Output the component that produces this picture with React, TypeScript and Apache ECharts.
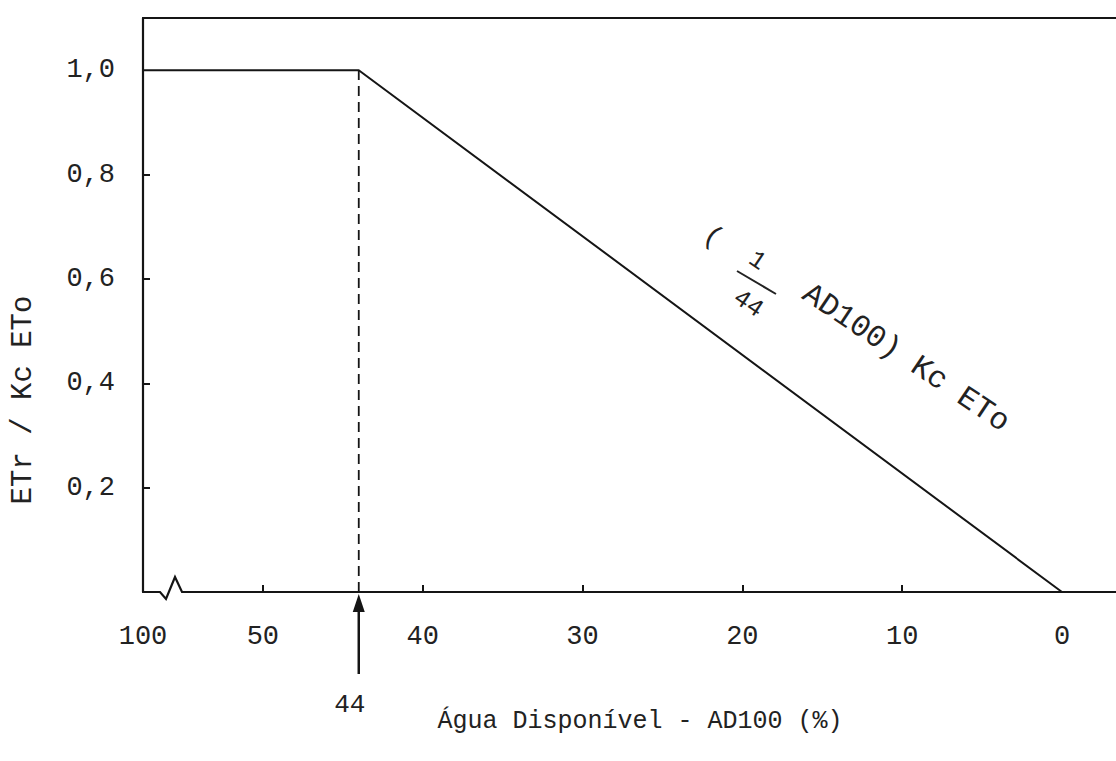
import React, { useEffect, useRef } from "react";
import * as echarts from "echarts";

// ---- data ----
const yTickValues = [0.2, 0.4, 0.6, 0.8];
const yLabelValues = [0.2, 0.4, 0.6, 0.8, 1.0];
const xTickValues = [50, 40, 30, 20, 10];
const xLabelValues = [100, 50, 40, 30, 20, 10, 0];
const curveAD = [100, 44, 0]; // Água Disponível AD100 (%)
const curveRatio = [1.0, 1.0, 0.0]; // ETr / Kc ETo
const criticalAD = 44;
const criticalRatio = 1.0;

// broken axis: 50..100 squeezed near the origin
const brk = (v: number) => (v <= 50 ? v : 50 + (v - 50) * 0.15);

const FONT = "'Liberation Mono', 'DejaVu Sans Mono', monospace";
const INK = "#151515";
const TXT = "#222";

export default function App() {
  const ref = useRef<HTMLDivElement>(null);
  useEffect(() => {
    document.body.style.margin = "0";
    const chart = echarts.init(ref.current!, undefined, { renderer: "svg" });
    const option: any = {
      animation: false,
      backgroundColor: "#ffffff",
      grid: { left: 143, right: 0, top: 18, bottom: 169 },
      xAxis: [
        {
          type: "value",
          inverse: true,
          min: -3.38,
          max: brk(100),
          axisLine: { show: true, onZero: false, lineStyle: { color: INK, width: 2.2 } },
          axisTick: {
            show: true,
            inside: true,
            length: 7,
            customValues: xTickValues.map(brk),
            lineStyle: { color: INK, width: 2 },
          },
          axisLabel: {
            customValues: xLabelValues.map(brk),
            formatter: (v: number) => {
              const l = xLabelValues.find((x) => Math.abs(brk(x) - v) < 1e-6);
              return l === undefined ? "" : String(l);
            },
            margin: 31,
            fontFamily: FONT,
            fontSize: 27,
            color: TXT,
          },
          splitLine: { show: false },
        },
        {
          type: "value",
          position: "top",
          inverse: true,
          min: -3.38,
          max: brk(100),
          axisLine: { show: true, onZero: false, lineStyle: { color: INK, width: 2.2 } },
          axisTick: { show: false },
          axisLabel: { show: false },
          splitLine: { show: false },
        },
      ],
      yAxis: {
        type: "value",
        position: "left",
        min: 0,
        max: 1.1,
        axisLine: { show: true, onZero: false, lineStyle: { color: INK, width: 2.2 } },
        axisTick: {
          show: true,
          inside: true,
          length: 7,
          customValues: yTickValues,
          lineStyle: { color: INK, width: 2 },
        },
        axisLabel: {
          customValues: yLabelValues,
          formatter: (v: number) => v.toFixed(1).replace(".", ","),
          margin: 28,
          fontFamily: FONT,
          fontSize: 27,
          color: TXT,
        },
        splitLine: { show: false },
      },
      graphic: [
        {
          type: "text",
          x: 23,
          y: 400,
          rotation: Math.PI / 2,
          style: {
            text: "ETr / Kc ETo",
            font: `29px ${FONT}`,
            fill: TXT,
            align: "center",
            verticalAlign: "middle",
          },
        },
        {
          type: "text",
          x: 640,
          y: 721,
          style: {
            text: "Água Disponível - AD100 (%)",
            font: `25px ${FONT}`,
            fill: TXT,
            align: "center",
            verticalAlign: "middle",
          },
        },
        {
          type: "text",
          x: 713,
          y: 237,
          rotation: -0.59,
          style: { text: "(", font: `28px ${FONT}`, fill: TXT, align: "center", verticalAlign: "middle" },
        },
        {
          type: "text",
          x: 757,
          y: 261,
          rotation: -0.59,
          style: { text: "1", font: `25px ${FONT}`, fill: TXT, align: "center", verticalAlign: "middle" },
        },
        {
          type: "line",
          shape: { x1: 737, y1: 271, x2: 776, y2: 294 },
          style: { stroke: TXT, lineWidth: 2 },
        },
        {
          type: "text",
          x: 748,
          y: 304,
          rotation: -0.59,
          style: { text: "44", font: `25px ${FONT}`, fill: TXT, align: "center", verticalAlign: "middle" },
        },
        {
          type: "text",
          x: 906,
          y: 358,
          rotation: -0.59,
          style: {
            text: "AD100) Kc ETo",
            font: `31px ${FONT}`,
            fill: TXT,
            align: "center",
            verticalAlign: "middle",
          },
        },
      ],
      series: [
        {
          type: "line",
          xAxisIndex: 0,
          data: curveAD.map((x, i) => [brk(x), curveRatio[i]]),
          symbol: "none",
          lineStyle: { color: INK, width: 2 },
          z: 3,
        },
        {
          type: "line",
          xAxisIndex: 0,
          data: [
            [criticalAD, 0],
            [criticalAD, criticalRatio],
          ],
          symbol: "none",
          lineStyle: { color: INK, width: 1.8, type: [10, 6] },
          z: 3,
        },
        {
          type: "custom",
          xAxisIndex: 0,
          clip: false,
          z: 5,
          data: [[criticalAD, 0]],
          renderItem: (params: any, api: any) => {
            const p = api.coord([api.value(0), api.value(1)]);
            return {
              type: "group",
              children: [
                {
                  type: "line",
                  shape: { x1: p[0], y1: p[1] + 82, x2: p[0], y2: p[1] + 14 },
                  style: { stroke: INK, lineWidth: 2.5 },
                },
                {
                  type: "polygon",
                  shape: {
                    points: [
                      [p[0], p[1] + 2],
                      [p[0] - 6, p[1] + 20],
                      [p[0] + 6, p[1] + 20],
                    ],
                  },
                  style: { fill: INK },
                },
                {
                  type: "text",
                  style: {
                    text: String(criticalAD),
                    x: p[0] - 9,
                    y: p[1] + 113,
                    font: `26px ${FONT}`,
                    fill: TXT,
                    align: "center",
                    verticalAlign: "middle",
                  },
                },
              ],
            };
          },
        },
        {
          type: "custom",
          xAxisIndex: 0,
          clip: false,
          z: 5,
          data: [[brk(100), 0]],
          renderItem: (params: any, api: any) => {
            const p = api.coord([api.value(0), api.value(1)]);
            return {
              type: "group",
              children: [
                {
                  type: "rect",
                  shape: { x: p[0] + 10, y: p[1] - 3, width: 30, height: 6 },
                  style: { fill: "#ffffff" },
                },
                {
                  type: "polyline",
                  shape: {
                    points: [
                      [p[0] + 6, p[1]],
                      [p[0] + 17, p[1]],
                      [p[0] + 23, p[1] + 7],
                      [p[0] + 32, p[1] - 15],
                      [p[0] + 39, p[1]],
                      [p[0] + 44, p[1]],
                    ],
                  },
                  style: { stroke: INK, lineWidth: 2.2, fill: "none" },
                },
              ],
            };
          },
        },
      ],
    };
    chart.setOption(option);
    return () => chart.dispose();
  }, []);
  return (
    <div
      ref={ref}
      style={{ position: "fixed", left: 0, top: 0, width: 1116, height: 761, background: "#fff" }}
    />
  );
}
